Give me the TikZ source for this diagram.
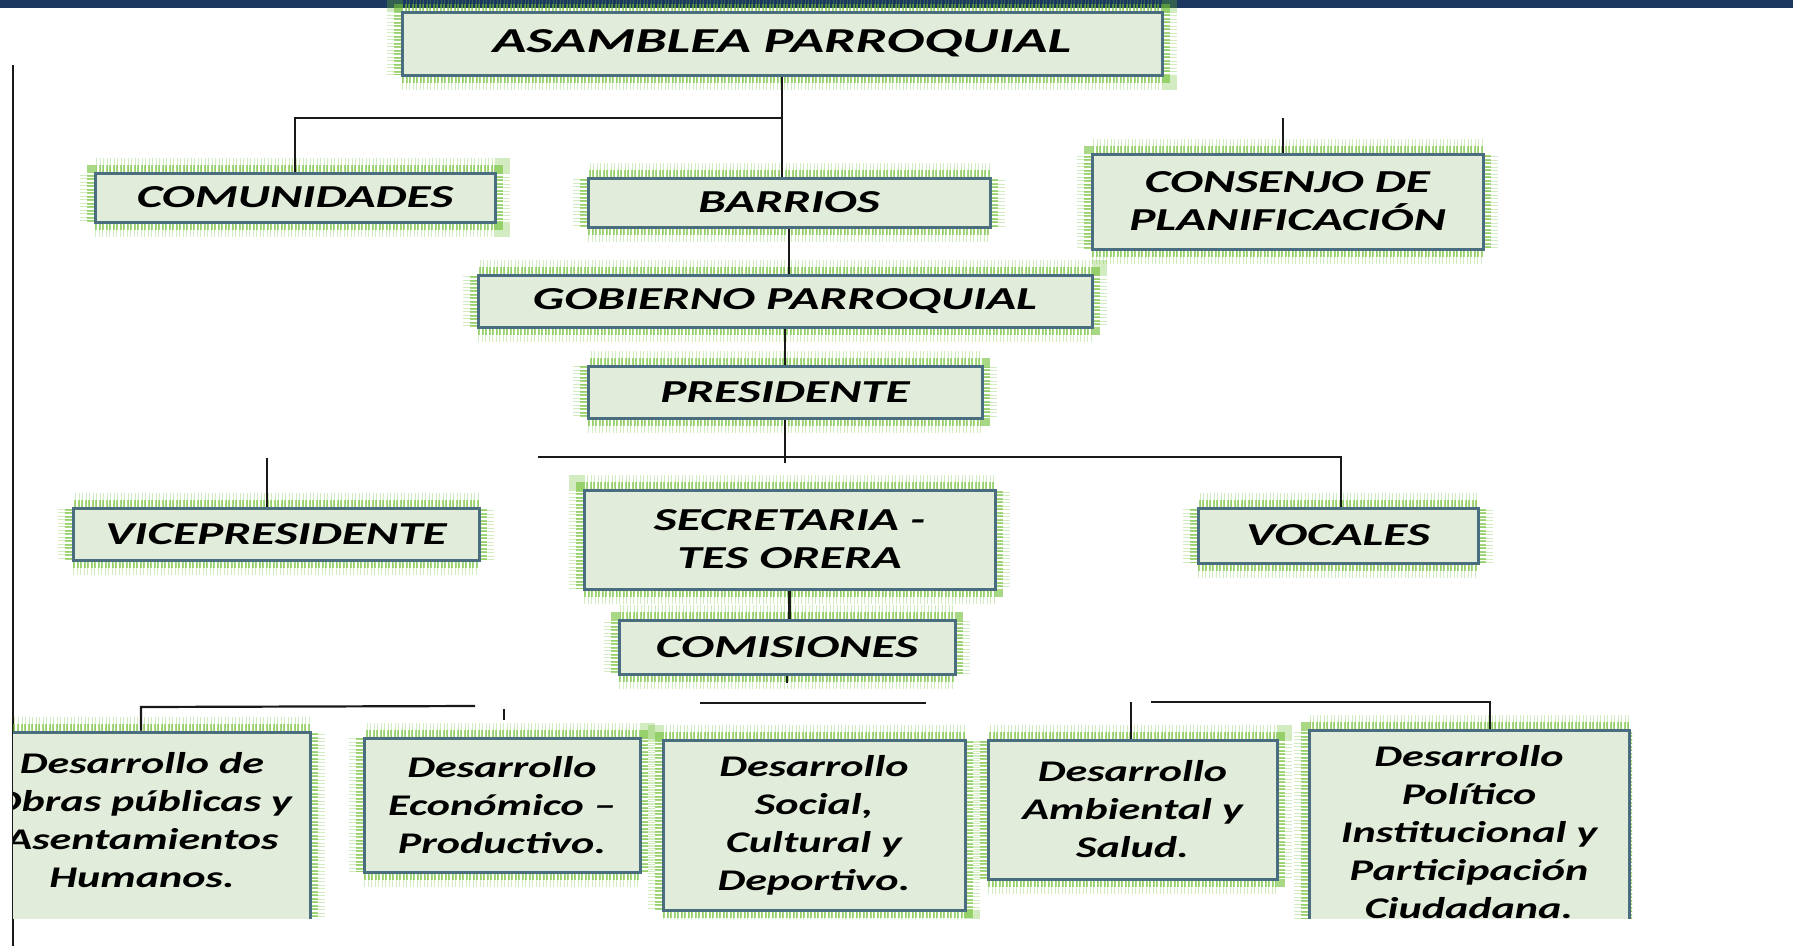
\documentclass[tikz,border=0pt]{standalone}
\usepackage{fontspec}
\setmainfont{Carlito}
\newfontfamily\topfont[FakeStretch=1.54]{Carlito}
\newfontfamily\asamfont[FakeStretch=1.6]{Carlito}
\newfontfamily\botfont[FakeStretch=1.47]{Carlito}
\usetikzlibrary{calc}
\definecolor{navy}{RGB}{28,56,96}
\definecolor{boxfill}{RGB}{226,236,218}
\definecolor{boxline}{RGB}{74,110,128}
\definecolor{glowgreen}{RGB}{110,190,50}
\definecolor{conn}{RGB}{25,25,25}
\tikzset{
  orgbox/.style={draw=boxline, line width=3pt, fill=boxfill, inner sep=0pt, align=center,
     preaction={draw=glowgreen, line width=30pt, dash pattern=on 1pt off 2.5pt, opacity=.3},
     preaction={draw=glowgreen, line width=16pt, dash pattern=on 2pt off 1.5pt, opacity=.6}},
  toptext/.style={font=\topfont\bfseries\itshape\fontsize{32}{38}\selectfont},
  bigtext/.style={font=\asamfont\bfseries\itshape\fontsize{35}{42}\selectfont},
  bottext/.style={font=\botfont\bfseries\itshape\fontsize{30}{38}\selectfont},
  plaintext/.style={inner sep=0pt, align=center},
  link/.style={draw=conn, line width=2.2pt},
}
\begin{document}
\begin{tikzpicture}[x=1pt,y=-1pt]
\useasboundingbox (0,0) rectangle (1793,946);
\fill[white] (0,0) rectangle (1793,946);
\fill[navy] (0,0) rectangle (1793,8);
\draw[conn, line width=2pt] (12.5,65) -- (12.5,946);

% upper nodes
\node[orgbox,bigtext,minimum width=760pt,minimum height=63pt] (asam) at (782,43.5) {ASAMBLEA PARROQUIAL};
\node[orgbox,toptext,minimum width=400pt,minimum height=49pt] (comu) at (295,197.5) {COMUNIDADES};
\node[orgbox,toptext,minimum width=402pt,minimum height=49pt] (barr) at (789,202.5) {BARRIOS};
\node[orgbox,toptext,minimum width=391pt,minimum height=95pt] (cons) at (1287.5,201.5) {CONSENJO DE\\PLANIFICACIÓN};
\node[orgbox,toptext,minimum width=614pt,minimum height=52pt] (gob) at (785,301) {GOBIERNO PARROQUIAL};
\node[orgbox,toptext,minimum width=394pt,minimum height=52pt] (pres) at (785,392) {PRESIDENTE};
\node[orgbox,toptext,minimum width=406pt,minimum height=52pt] (vice) at (276,534) {VICEPRESIDENTE};
\node[orgbox,toptext,minimum width=411pt,minimum height=99pt] (secr) at (789.5,539.5) {SECRETARIA -\\TES ORERA};
\node[orgbox,toptext,minimum width=336pt,minimum height=54pt] (comi) at (787,647) {COMISIONES};
\node[orgbox,toptext,minimum width=280pt,minimum height=55pt] (voc) at (1338,535.5) {VOCALES};

% bottom row (cut off at the edges)
\begin{scope}
\clip (13,690) rectangle (1632,918);
\node[orgbox,minimum width=318pt,minimum height=203pt] (d1) at (151,833.5) {};
\node[plaintext,bottext] (d1t) at (142,820) {Desarrollo de\\Obras públicas y\\Asentamientos\\Humanos.};
\node[orgbox,bottext,minimum width=276pt,minimum height=134pt] (d2) at (502,805) {Desarrollo\\Económico –\\Productivo.};
\node[orgbox,bottext,minimum width=302pt,minimum height=170pt] (d3) at (814,825) {Desarrollo\\Social,\\Cultural y\\Deportivo.};
\node[orgbox,bottext,minimum width=289pt,minimum height=139pt] (d4) at (1132.5,809.5) {Desarrollo\\Ambiental y\\Salud.};
\node[orgbox,bottext,minimum width=320pt,minimum height=205pt] (d5) at (1469,832.5) {Desarrollo\\Político\\Institucional y\\Participación\\Ciudadana.};
\end{scope}

% connectors
\coordinate (j1) at (782,118);
\draw[link] (asam.south) -- (asam.south |- barr.north);
\draw[link] (j1) -- (j1 -| comu.north) -- (comu.north);
\coordinate (cs) at (1283,118);
\draw[link] (cs) -- (cs |- cons.north);
\draw[link] (barr.south) -- (barr.south |- gob.north);
\draw[link] (gob.south) -- (pres.north);
\coordinate (p2) at (785,463);
\draw[link] (pres.south) -- (p2);
\coordinate (h2l) at (538,457);
\coordinate (h2r) at (1341,457);
\draw[link] (h2l) -- (h2r) -- (h2r |- voc.north);
\coordinate (vs) at (267,458);
\draw[link] (vs) -- (vs |- vice.north);
\draw[link] (secr.south) -- (secr.south |- comi.north);
\coordinate (cm) at (787,683);
\draw[link] (comi.south) -- (cm);
\coordinate (b1) at (141,707);
\coordinate (b1r) at (475,706);
\draw[link] (b1r) -- (b1) -- (b1 |- d1.north);
\coordinate (s2a) at (504,709);
\coordinate (s2b) at (504,720);
\draw[link] (s2a) -- (s2b);
\coordinate (b3l) at (700,703);
\coordinate (b3r) at (926,703);
\draw[link] (b3l) -- (b3r);
\coordinate (s4) at (1131,702);
\draw[link] (s4) -- (s4 |- d4.north);
\coordinate (b5l) at (1151,702);
\coordinate (b5r) at (1490,702);
\draw[link] (b5l) -- (b5r) -- (b5r |- d5.north);
\end{tikzpicture}
\end{document}
